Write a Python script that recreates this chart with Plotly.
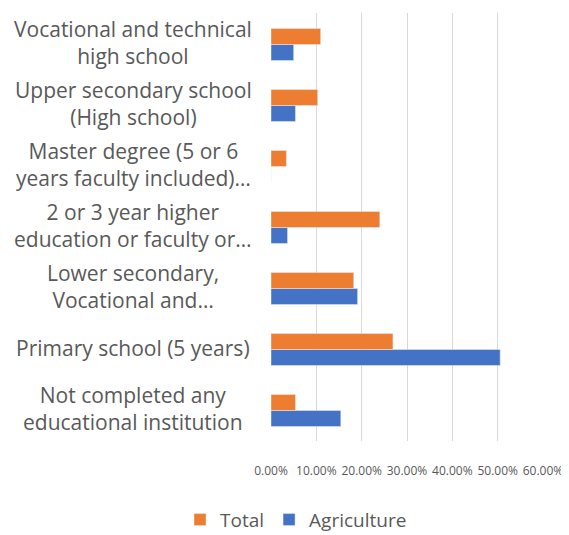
import plotly.graph_objects as go

# categories, bottom to top as drawn
categories = [
    "Not completed any<br>educational institution",
    "Primary school (5 years)",
    "Lower secondary,<br>Vocational and…",
    "2 or 3 year higher<br>education or faculty or…",
    "Master degree (5 or 6<br>years faculty included)…",
    "Upper secondary school<br>(High school)",
    "Vocational and technical<br>high school",
]
agriculture = [0.154, 0.5055, 0.191, 0.0365, 0.0, 0.054, 0.050]
total = [0.054, 0.269, 0.1825, 0.240, 0.034, 0.103, 0.1095]
tick_vals = [0, 0.1, 0.2, 0.3, 0.4, 0.5, 0.6]

FONT = "Open Sans"
GREY = "#595959"

fig = go.Figure()
fig.add_trace(go.Bar(y=categories, x=agriculture, name="Agriculture",
                     orientation="h", marker_color="#4472C4"))
fig.add_trace(go.Bar(y=categories, x=total, name="Total",
                     orientation="h", marker_color="#ED7D31"))

# category labels, centered like excel wraps them
annotations = [dict(text=c, x=-0.507, y=c, xref="paper", yref="y",
                    xanchor="center", yanchor="middle", align="center", yshift=2,
                    showarrow=False, font=dict(family=FONT, size=21, color=GREY))
               for c in categories]

# page body has an 8px margin, so the figure is 8px smaller each way
fig.update_layout(
    width=561, height=527,
    margin=dict(l=263, r=26, t=5, b=94, autoexpand=False),
    barmode="group", bargap=0.476, bargroupgap=0,
    plot_bgcolor="white", paper_bgcolor="white",
    font=dict(family=FONT, color=GREY),
    annotations=annotations,
    showlegend=True,
    legend=dict(orientation="h", x=0.092, xanchor="center", y=-0.184, yanchor="middle",
                traceorder="reversed", font=dict(family=FONT, size=19, color=GREY),
                itemwidth=30),
    xaxis=dict(range=[0, 0.6], tickvals=tick_vals, tickformat=".2%", tickangle=0,
               showgrid=True, gridcolor="#d9d9d9", gridwidth=1, zeroline=False,
               ticks="outside", ticklen=19, tickcolor="rgba(0,0,0,0)",
               tickfont=dict(family=FONT, size=12, color=GREY)),
    yaxis=dict(showticklabels=False, showgrid=False, zeroline=False),
)

fig.write_html("out.html")
